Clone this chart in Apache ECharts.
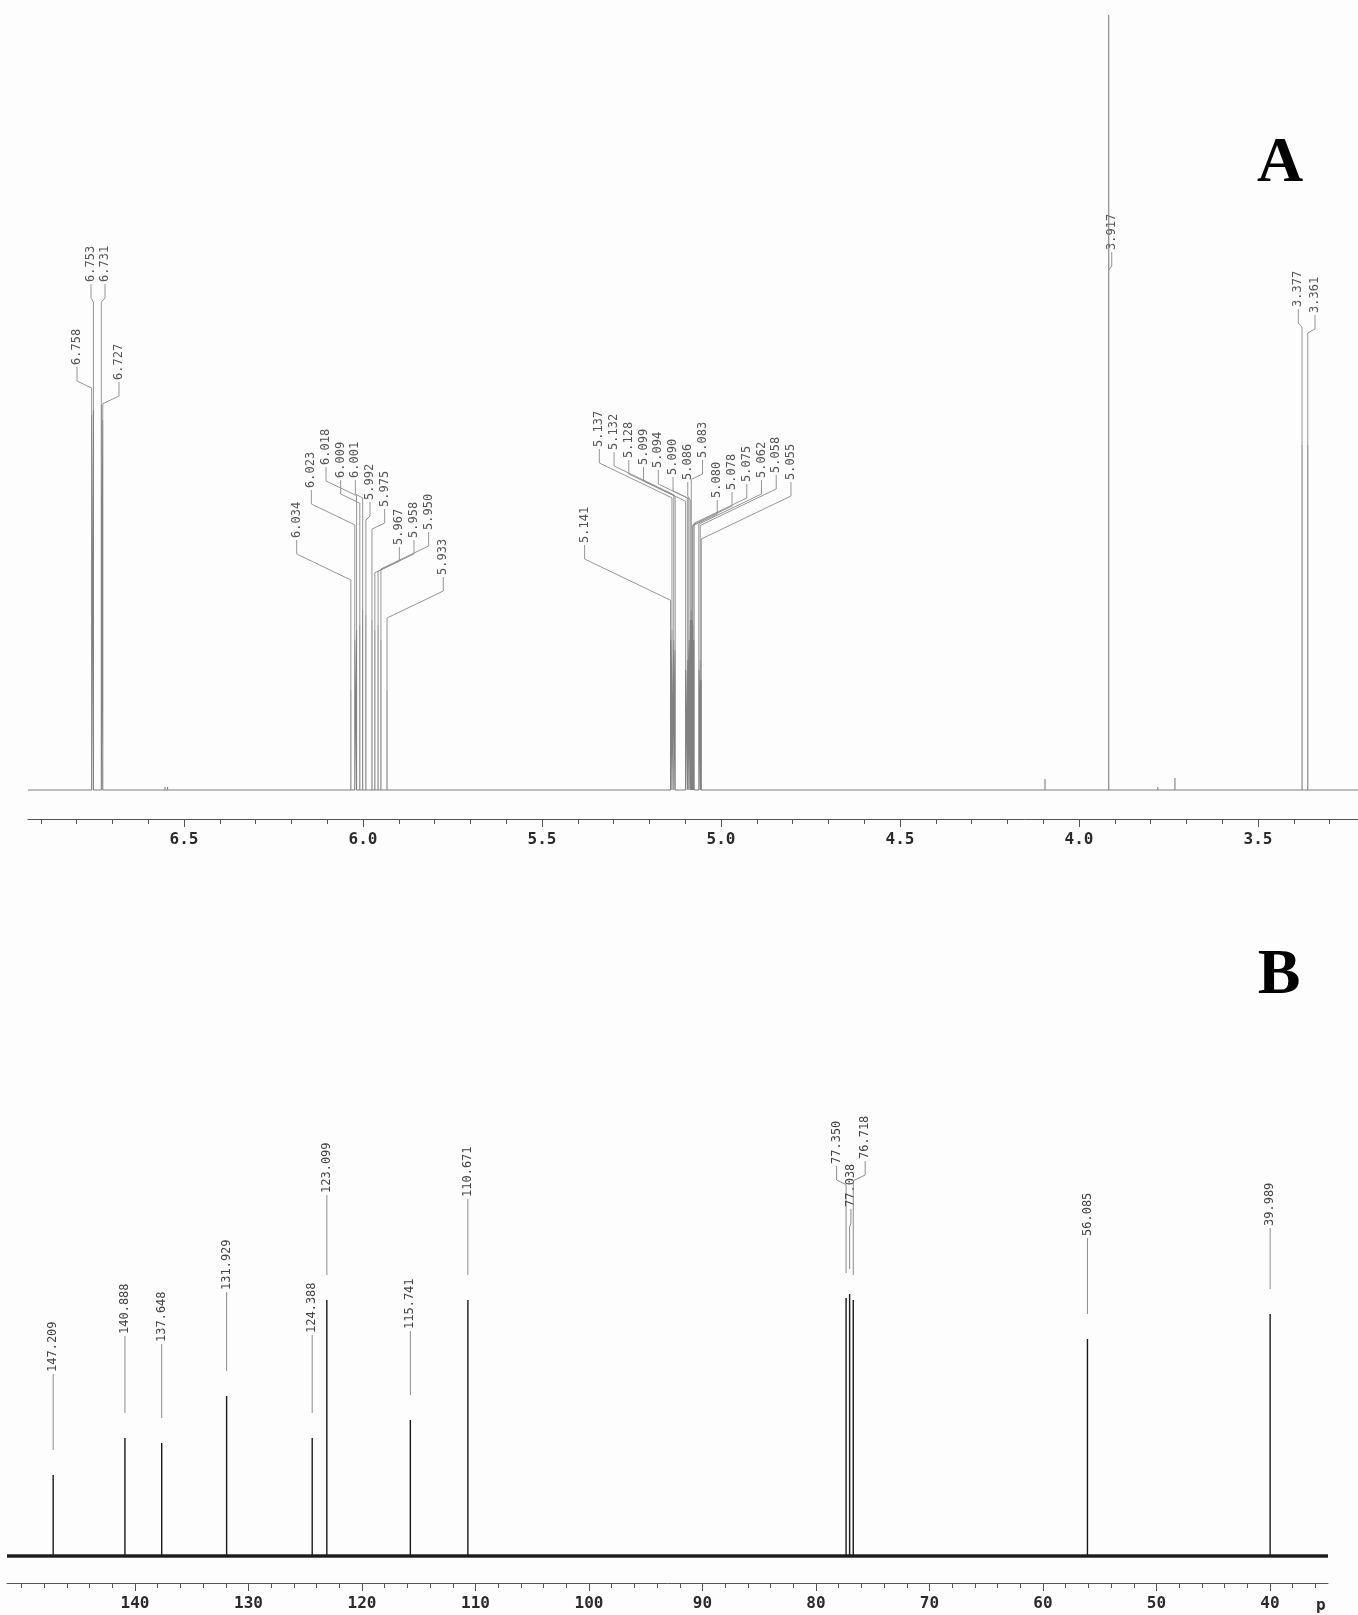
<!DOCTYPE html>
<html><head><meta charset="utf-8">
<script src="https://cdn.jsdelivr.net/npm/echarts@6/dist/echarts.min.js"></script>
<style>html,body{margin:0;padding:0;background:#fdfdfd}#c{width:1358px;height:1615px}</style>
</head><body><div id="c"></div>
<script>
// ================= DATA =================
// Panel A: 1H NMR — labelled peaks (ppm) and their heights (arbitrary intensity)
const H1_PEAKS = [6.758, 6.753, 6.731, 6.727,
  6.034, 6.023, 6.018, 6.009, 6.001, 5.992, 5.975, 5.967, 5.958, 5.950, 5.933,
  5.141, 5.137, 5.132, 5.128, 5.099, 5.094, 5.090, 5.086, 5.083, 5.080, 5.078, 5.075, 5.062, 5.058, 5.055,
  3.917, 3.377, 3.361];
const H1_HEIGHTS = [375, 380, 385, 370,
  100, 150, 160, 165, 180, 175, 170, 160, 165, 150, 100,
  150, 160, 150, 140, 120, 130, 150, 170, 180, 170, 165, 150, 120, 130, 110,
  775, 345, 345];
// small unlabelled signals
const H1_SMALL_PEAKS = [6.553, 6.546, 4.095, 3.780, 3.732, 3.520];
const H1_SMALL_HEIGHTS = [3, 3, 11, 3, 12, 2];
const H1_TICK_LABELS = [6.5, 6.0, 5.5, 5.0, 4.5, 4.0, 3.5];

// Panel B: 13C NMR
const C13_PEAKS = [147.209, 140.888, 137.648, 131.929, 124.388, 123.099, 115.741, 110.671, 77.350, 77.038, 76.718, 56.085, 39.989];
const C13_HEIGHTS = [81, 118, 113, 160, 118, 256, 136, 256, 258, 262, 256, 217, 242];
const C13_TICK_LABELS = [140, 130, 120, 110, 100, 90, 80, 70, 60, 50, 40];

// ================= LAYOUT (annotation placement, px) =================
const H1_AX = {min: 3.2207, max: 6.9358};
const C13_AX = {min: 34.89, max: 151.278};
const H1_LABEL_GROUPS = [
  {n: 4, x0: 77, pitch: 14},
  {n: 11, x0: 296.7, pitch: 14.66},
  {n: 15, x0: 584.6, pitch: 14.74},
  {n: 1, auto: true, dx: 3},
  {n: 2, x0: 1298.3, pitch: 16.7}
];
const H1_LABEL_BOTTOMS = [365, 282, 282, 380,
  538, 488, 465, 478, 478, 500, 507, 545, 538, 530, 575,
  543, 447, 450, 458, 465, 468, 475, 480, 458, 498, 490, 482, 478, 473, 480,
  250, 307, 313];
const C13_LABEL_GROUPS = [
  {n: 8, auto: true, dx: 0},
  {n: 3, x0: 836.6, pitch: 14.3},
  {n: 2, auto: true, dx: 0}
];
const C13_LABEL_BOTTOMS = [1372, 1334, 1342, 1290, 1333, 1193, 1329, 1197, 1164, 1207, 1159, 1236, 1226];

function expandGroups(groups) {
  const out = [];
  groups.forEach(g => {
    for (let k = 0; k < g.n; k++) {
      out.push(g.auto ? {auto: true, dx: g.dx || 0} : {auto: false, x: g.x0 + k * g.pitch});
    }
  });
  return out;
}
const H1_LAYOUT = expandGroups(H1_LABEL_GROUPS);
const C13_LAYOUT = expandGroups(C13_LABEL_GROUPS);

function stickSpectrum(peaks, heights, ax) {
  const items = peaks.map((p, i) => [p, heights[i]]).sort((a, b) => b[0] - a[0]);
  const d = [[ax.max, 0]];
  items.forEach(([p, h]) => { d.push([p, 0], [p, h], [p, 0]); });
  d.push([ax.min, 0]);
  return d;
}
const h1Line = stickSpectrum(H1_PEAKS.concat(H1_SMALL_PEAKS), H1_HEIGHTS.concat(H1_SMALL_HEIGHTS), H1_AX);
const c13Line = stickSpectrum(C13_PEAKS, C13_HEIGHTS, C13_AX);

function labelRenderer(peaks, layout, bottoms, cfg) {
  return function (params, api) {
    const i = api.value(2);
    const pt = api.coord([api.value(0), api.value(1)]);
    const px = pt[0], py = pt[1];
    const L = layout[i];
    const lx = L.auto ? px + L.dx : L.x;
    const ly = bottoms[i];
    const yk = ly + cfg.k1;
    const adx = Math.abs(px - lx);
    const yd = yk + (adx > 0.6 ? Math.max(4, 0.48 * adx) : 0);
    const pts = [[lx, ly + 2], [lx, yk], [px, yd]];
    const yEnd = py - cfg.gap;
    if (yEnd > yd) pts.push([px, yEnd]);
    return {
      type: 'group',
      children: [
        {type: 'polyline', shape: {points: pts}, style: {stroke: cfg.leader, lineWidth: cfg.lw, fill: null}},
        {type: 'text', x: lx, y: ly, rotation: Math.PI / 2,
          style: {text: peaks[i].toFixed(3), fill: cfg.textColor, font: '12px "DejaVu Sans Mono"',
            textAlign: 'left', textVerticalAlign: 'middle', align: 'left', verticalAlign: 'middle'}}
      ]
    };
  };
}

function range(a, b, step, dec) {
  const out = [];
  const n = Math.round((b - a) / step);
  for (let k = 0; k <= n; k++) out.push(+(a + k * step).toFixed(dec));
  return out;
}
const H1_MINOR = range(3.3, 6.9, 0.1, 1);
const C13_MINOR = range(36, 150, 2, 0);

const tickLabelStyle = {fontFamily: 'DejaVu Sans Mono', fontWeight: 'bold', fontSize: 16, color: '#2a2a2a'};

function xAxes(grid, ax, majors, minors, offset, dec) {
  return [
    {gridIndex: grid, type: 'value', position: 'bottom', inverse: true, min: ax.min, max: ax.max, offset: offset,
      axisLine: {show: true, onZero: false, lineStyle: {color: '#555', width: 1}},
      axisTick: {show: true, customValues: majors, length: 8, lineStyle: {color: '#555'}},
      axisLabel: Object.assign({show: true, customValues: majors, margin: 13,
        formatter: v => (+v).toFixed(dec)}, tickLabelStyle),
      splitLine: {show: false}},
    {gridIndex: grid, type: 'value', position: 'bottom', inverse: true, min: ax.min, max: ax.max, offset: offset,
      axisLine: {show: false, onZero: false},
      axisTick: {show: true, customValues: minors, length: 5, lineStyle: {color: '#555'}},
      axisLabel: {show: false}, splitLine: {show: false}}
  ];
}

const chart = echarts.init(document.getElementById('c'), null, {renderer: 'canvas'});
chart.setOption({
  animation: false,
  backgroundColor: '#fdfdfd',
  grid: [
    {left: 28, right: 0, top: 15, bottom: 825},
    {left: 7, right: 30, top: 1000, bottom: 59}
  ],
  xAxis: xAxes(0, H1_AX, H1_TICK_LABELS, H1_MINOR, 29, 1).concat(xAxes(1, C13_AX, C13_TICK_LABELS, C13_MINOR, 27, 0)),
  yAxis: [
    {gridIndex: 0, type: 'value', min: 0, max: 775, show: false, splitLine: {show: false}},
    {gridIndex: 1, type: 'value', min: 0, max: 556, show: false, splitLine: {show: false}}
  ],
  series: [
    {type: 'custom', xAxisIndex: 0, yAxisIndex: 0, coordinateSystem: 'cartesian2d', clip: false, z: 2,
      renderItem: labelRenderer(H1_PEAKS, H1_LAYOUT, H1_LABEL_BOTTOMS, {k1: 16, gap: 0, leader: '#8a8a8a', lw: 0.9, textColor: '#555'}),
      encode: {x: 0, y: 1},
      data: H1_PEAKS.map((p, i) => [p, H1_HEIGHTS[i], i])},
    {type: 'line', xAxisIndex: 0, yAxisIndex: 0, data: h1Line, showSymbol: false, clip: false, z: 3,
      lineStyle: {color: '#808080', width: 1.1}},
    {type: 'line', xAxisIndex: 2, yAxisIndex: 1, data: [[C13_AX.max, 0], [C13_AX.min, 0]], showSymbol: false, clip: false, z: 3,
      lineStyle: {color: '#262626', width: 3.5}},
    {type: 'custom', xAxisIndex: 2, yAxisIndex: 1, coordinateSystem: 'cartesian2d', clip: false, z: 2,
      renderItem: labelRenderer(C13_PEAKS, C13_LAYOUT, C13_LABEL_BOTTOMS, {k1: 16, gap: 25, leader: '#8c8c8c', lw: 1, textColor: '#444'}),
      encode: {x: 0, y: 1},
      data: C13_PEAKS.map((p, i) => [p, C13_HEIGHTS[i], i])},
    {type: 'line', xAxisIndex: 2, yAxisIndex: 1, data: c13Line, showSymbol: false, clip: false, z: 4,
      lineStyle: {color: '#1a1a1a', width: 1.4}}
  ],
  graphic: [
    {type: 'text', x: 1280, y: 164, style: {text: 'A', font: 'bold 64px "Liberation Serif"', fill: '#000', textAlign: 'center', textVerticalAlign: 'middle', align: 'center', verticalAlign: 'middle'}},
    {type: 'text', x: 1279, y: 976, style: {text: 'B', font: 'bold 64px "Liberation Serif"', fill: '#000', textAlign: 'center', textVerticalAlign: 'middle', align: 'center', verticalAlign: 'middle'}},
    {type: 'text', x: 1316, y: 1606, style: {text: 'p', font: 'bold 16px "DejaVu Sans Mono"', fill: '#2a2a2a', textAlign: 'left', textVerticalAlign: 'middle', align: 'left', verticalAlign: 'middle'}}
  ]
});
</script>
</body></html>
